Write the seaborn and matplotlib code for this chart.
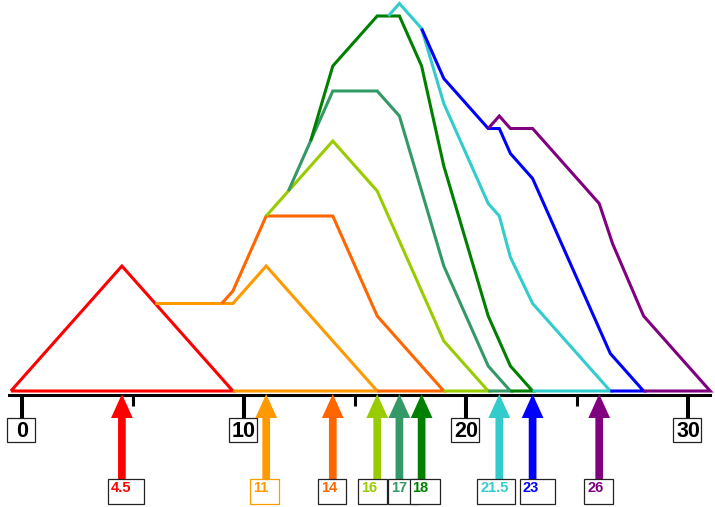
import matplotlib
matplotlib.use("Agg")
import matplotlib.pyplot as plt
import seaborn as sns
import numpy as np
import pandas as pd
from matplotlib.patches import Rectangle

# ---------------- data ----------------
labels = ["4.5", "11", "14", "16", "17", "18", "21.5", "23", "26"]
arrow_values = [4.5, 11, 14, 16, 17, 18, 21.5, 23, 26]
colors = ["#FF0000", "#FF9900", "#FF6600", "#99CC00", "#339966",
          "#008000", "#33CCCC", "#0000FF", "#800080"]

red_x = [-0.5, 4.5, 9.5, -0.5]
red_y = [0, 10, 0, 0]
orange_x = [6, 9.5, 11, 16, 9.5]
orange_y = [7, 7, 10, 0, 0]
darkorange_x = [9, 9.5, 11, 14, 16, 19, 16]
darkorange_y = [7, 8, 14, 14, 6, 0, 0]
yellowgreen_x = [11, 12, 14, 16, 19, 21, 19]
yellowgreen_y = [14, 16, 20, 16, 4, 0, 0]
teal_x = [12, 14, 16, 17, 19, 21, 22, 21]
teal_y = [16, 24, 24, 22, 10, 2, 0, 0]
green_x = [13, 14, 16, 17, 18, 19, 21, 22, 23, 22]
green_y = [20, 26, 30, 30, 26, 18, 6, 2, 0, 0]
cyan_x = [16.5, 17, 18, 19, 21, 21.5, 22, 23, 26.5, 23]
cyan_y = [30, 31, 29, 23, 15, 14, 10.7, 7, 0, 0]
blue_x = [18, 19, 21, 21.5, 22, 23, 26.5, 28, 26.5]
blue_y = [29, 25, 21, 21, 19, 17, 3, 0, 0]
purple_x = [21, 21.5, 22, 23, 26, 26.6, 28, 31, 28]
purple_y = [21, 22, 21, 21, 15, 11.8, 6, 0, 0]

series_x = [red_x, orange_x, darkorange_x, yellowgreen_x, teal_x,
            green_x, cyan_x, blue_x, purple_x]
series_y = [red_y, orange_y, darkorange_y, yellowgreen_y, teal_y,
            green_y, cyan_y, blue_y, purple_y]

tick_values = [0, 10, 20, 30]
tick_labels = ["0", "10", "20", "30"]
minor_tick_values = [5, 15, 25]

# ---------------- style ----------------
sns.set_style("white")
plt.rcParams["font.family"] = ["Liberation Sans", "DejaVu Sans"]

W, H = 715, 507
PXX = 22.2   # pixels per x unit
PXY = 12.5   # pixels per y unit
X0 = 22      # pixel of x = 0
Y0 = 391     # pixel row of y = 0


def yv(py):
    return (Y0 - py) / PXY


fig = plt.figure(figsize=(W / 100, H / 100), dpi=100)
ax = fig.add_axes([0, 0, 1, 1])
ax.set_xlim(-X0 / PXX, (W - X0) / PXX)
ax.set_ylim(yv(H), yv(0))

LW = 2.2
for i, (xs, ys) in enumerate(zip(series_x, series_y)):
    df = pd.DataFrame({"x": xs, "y": ys})
    sns.lineplot(data=df, x="x", y="y", sort=False, estimator=None,
                 color=colors[i], linewidth=LW, ax=ax, zorder=3 + i * 0.1,
                 solid_joinstyle="miter", solid_capstyle="butt")
for line in ax.lines:
    line.set_clip_on(False)

# axis
for s in ["top", "left", "right"]:
    ax.spines[s].set_visible(False)
ax.spines["bottom"].set_position(("data", yv(394.5)))
ax.spines["bottom"].set_bounds(-0.6, 31.0)
ax.spines["bottom"].set_linewidth(2.2)
ax.spines["bottom"].set_color("black")
ax.spines["bottom"].set_zorder(2)
ax.set_yticks([])
ax.set_xticks(tick_values)
ax.set_xticklabels(tick_labels)
ax.set_xticks(minor_tick_values, minor=True)
ax.tick_params(axis="x", which="major", direction="out", length=16.2,
               width=2.9, color="black", pad=3.0, labelsize=15.5,
               bottom=True, labelbottom=True)
ax.tick_params(axis="x", which="minor", direction="out", length=7.6,
               width=2.2, color="black", bottom=True)
for t in ax.get_xticklabels():
    t.set_fontweight("bold")
    t.set_color("black")
ax.xaxis.set_zorder(2.5)
ax.set_xlabel("")
ax.set_ylabel("")

# tick label boxes
for tv in tick_values:
    ax.add_patch(Rectangle((tv - 15 / PXX, yv(442)), 28 / PXX, 24 / PXY,
                           facecolor="white", edgecolor="#222222",
                           linewidth=0.9, zorder=1, clip_on=False))

# arrows
for v, c in zip(arrow_values, colors):
    tail = yv(480)
    tip = yv(394)
    ax.arrow(v, tail, 0, tip - tail, width=7.7 / PXX, head_width=21.7 / PXX,
             head_length=24 / PXY, length_includes_head=True, color=c,
             linewidth=0, zorder=4, clip_on=False)

# value label boxes
box_left_off = [-14, -16, -15, -19, -11, -12, -22, -13, -15]
box_width = [36, 29, 28, 29, 30, 30, 38, 35, 29]
box_edge = ["#222222", "#FF9900", "#222222", "#222222", "#222222",
            "#222222", "#222222", "#222222", "#222222"]
for i, (v, lab, c) in enumerate(zip(arrow_values, labels, colors)):
    left = v + box_left_off[i] / PXX
    ax.add_patch(Rectangle((left, yv(504)), box_width[i] / PXX, 25 / PXY,
                           facecolor="white", edgecolor=box_edge[i],
                           linewidth=0.9, zorder=5 + i * 0.1, clip_on=False))
    ax.text(left + 3 / PXX, yv(488.5), lab, color=c, fontsize=10.5,
            fontweight="bold", ha="left", va="center",
            zorder=5.05 + i * 0.1)

fig.savefig("out.png", dpi=100, facecolor="white")
